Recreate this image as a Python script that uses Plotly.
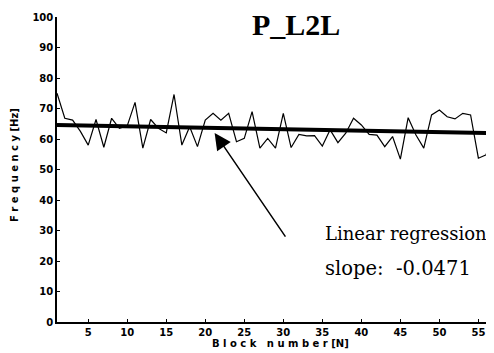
import plotly.graph_objects as go

block = list(range(1, 58))
freq = [75.0, 66.8, 66.2, 62.5, 58.0, 66.4, 57.3, 66.8, 63.5, 64.3,
        72.0, 57.0, 66.4, 63.5, 62.0, 74.6, 58.0, 64.0, 57.5, 66.2,
        68.4, 66.2, 68.4, 59.1, 60.2, 69.0, 57.0, 60.2, 57.0, 68.4,
        57.2, 61.5, 61.0, 61.1, 57.7, 63.0, 58.8, 61.9, 66.8, 64.6,
        61.5, 61.3, 57.5, 60.8, 53.4, 67.0, 61.3, 57.0, 67.9, 69.5,
        67.3, 66.6, 68.4, 67.9, 53.7, 54.8, 69.5]

slope = -0.0471
intercept = 64.6
reg_x = [1, 57]
reg_y = [intercept + slope * v for v in reg_x]

x_ticks = [5, 10, 15, 20, 25, 30, 35, 40, 45, 50, 55]
y_ticks = [0, 10, 20, 30, 40, 50, 60, 70, 80, 90, 100]

fig = go.Figure()
fig.add_trace(go.Scatter(x=block, y=freq, mode="lines",
                         line=dict(color="black", width=1.2), showlegend=False))
fig.add_trace(go.Scatter(x=reg_x, y=reg_y, mode="lines",
                         line=dict(color="black", width=4), showlegend=False))

axis_font = dict(family="DejaVu Sans", size=10, color="black", weight="bold")

fig.update_layout(
    width=486, height=345,
    margin=dict(l=49, r=0, t=9, b=31),
    paper_bgcolor="white", plot_bgcolor="white",
    font=dict(family="DejaVu Sans", color="black"),
    xaxis=dict(range=[1, 57], tickvals=x_ticks, ticks="inside", ticklen=3,
               tickcolor="black", showline=True, linecolor="black", linewidth=1.5,
               showgrid=False, zeroline=False, tickfont=axis_font, automargin=False),
    yaxis=dict(range=[0, 100], tickvals=y_ticks, ticks="inside", ticklen=3,
               tickcolor="black", showline=True, linecolor="black", linewidth=1.5,
               showgrid=False, zeroline=False, tickfont=axis_font, automargin=False),
)

fig.add_annotation(text="B l o c k   n u m b e r [N]", xref="paper", yref="paper",
                   x=0.511, y=-0.069, xanchor="center", yanchor="middle",
                   showarrow=False, font=axis_font)
fig.add_annotation(text="F r e q u e n c y [Hz]", xref="paper", yref="paper",
                   x=-0.096, y=0.515, xanchor="center", yanchor="middle",
                   textangle=-90, showarrow=False, font=axis_font)
fig.add_annotation(text="<b>P_L2L</b>", xref="paper", yref="paper", x=0.548, y=0.977,
                   xanchor="center", yanchor="middle", showarrow=False,
                   font=dict(family="Liberation Serif", size=30, color="black"))
fig.add_annotation(text="Linear regression", xref="x", yref="y", x=35.1, y=28.9,
                   xanchor="left", yanchor="middle", showarrow=False,
                   font=dict(family="DejaVu Serif", size=18, color="black"))
fig.add_annotation(text="slope:\u00a0 -0.0471", xref="x", yref="y", x=35.1, y=17.7,
                   xanchor="left", yanchor="middle", showarrow=False,
                   font=dict(family="DejaVu Serif", size=19.5, color="black"))
fig.add_annotation(text="", x=21.2, y=62, xref="x", yref="y",
                   ax=30.4, ay=27.5, axref="x", ayref="y",
                   showarrow=True, arrowhead=2, arrowsize=2.2, arrowwidth=1.5,
                   arrowcolor="black")

fig.write_html("out.html")
